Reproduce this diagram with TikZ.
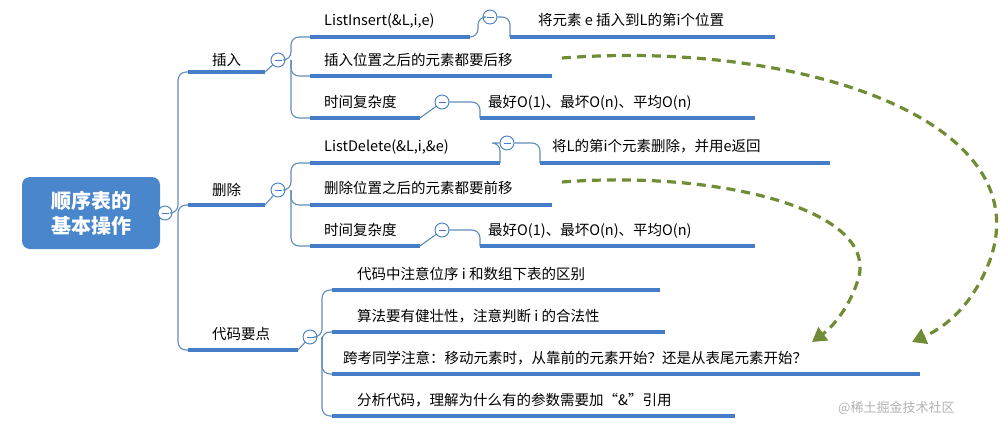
\documentclass[tikz,border=0pt]{standalone}
\usepackage{fontspec}
\setmainfont{Noto Sans CJK SC}
\usetikzlibrary{arrows.meta}
\definecolor{ulc}{RGB}{70,125,200}
\definecolor{lnc}{RGB}{95,140,185}
\definecolor{grn}{RGB}{112,140,52}
\definecolor{rootc}{RGB}{74,134,204}
\tikzset{
 txt/.style={font=\fontsize{14.5}{17}\selectfont, anchor=base west, inner sep=0pt},
 ul/.style={draw=ulc, line width=3.5pt},
 br/.style={draw=lnc, line width=1.1pt, rounded corners=8pt},
 minus/.style={circle, draw=ulc, line width=0.9pt, minimum size=14pt, inner sep=0pt, fill=white,
   path picture={\draw[ulc,line width=0.9pt] ([xshift=-3.5pt]path picture bounding box.center) -- ([xshift=3.5pt]path picture bounding box.center);}},
 garr/.style={draw=grn, line width=3.2pt, dash pattern=on 9pt off 6pt, -{Triangle[length=14pt,width=16pt]}}
}
\begin{document}
\begin{tikzpicture}[x=1pt,y=-1pt]
\useasboundingbox (0,0) rectangle (1006,423);
% root
\node[fill=rootc, rounded corners=8pt, minimum width=138pt, minimum height=72pt, text=white, font=\fontsize{20}{25}\selectfont\bfseries, align=center] (root) at (91,213) {顺序表的\\基本操作};
\node[minus] (m0) at (165,213) {};
% level 1 branches
\coordinate (hub) at (178,213);
\draw[br] (m0) -- (hub) |- (188,72);
\draw[br] (hub) |- (188,205);
\draw[br] (hub) |- (188,350);
% 插入
\draw[ul] (188,72) -- (265,72);
\node[txt] (cr) at (212,65) {插入};
\node[minus] (m1) at (278,60) {};
\draw[br] (265,72) -- (m1);
\coordinate (h1) at (291,60);
\draw[br] (m1) -- (h1) |- (310,37);
\draw[br] (h1) |- (310,76);
\draw[br] (h1) |- (310,118);
\draw[ul] (310,37) -- (470,37);
\node[txt] (li) at (324,25) {ListInsert(\&L,i,e)};
\node[minus] (m2) at (490,17) {};
\draw[br] (470,37) -- (478,37) |- (m2);
\draw[br] (m2) -- (510,17) |- (510,37);
\draw[ul] (510,37) -- (775,37);
\node[txt] (li2) at (538,25) {将元素 e 插入到L的第i个位置};
\draw[ul] (310,76) -- (552,76);
\node[txt] (hy) at (324,65) {插入位置之后的元素都要后移};
\draw[ul] (310,118) -- (420,118);
\node[txt] (t1) at (324,107) {时间复杂度};
\node[minus] (m3) at (442,102) {};
\draw[br] (420,118) -- (m3);
\draw[br] (m3) -- (480,102) |- (480,118);
\draw[ul] (480,118) -- (755,118);
\node[txt] (t1b) at (488,107) {最好O(1)、最坏O(n)、平均O(n)};
% 删除
\draw[ul] (188,205) -- (265,205);
\node[txt] (sc) at (212,195) {删除};
\node[minus] (m4) at (278,190) {};
\draw[br] (265,205) -- (m4);
\coordinate (h2) at (291,190);
\draw[br] (m4) -- (h2) |- (310,163);
\draw[br] (h2) |- (310,205);
\draw[br] (h2) |- (310,246);
\draw[ul] (310,163) -- (500,163);
\node[txt] (ld) at (324,151) {ListDelete(\&L,i,\&e)};
\node[minus] (m5) at (507,143) {};
\draw[br] (500,163) |- (m5);
\draw[br] (m5) -- (540,143) |- (540,163);
\draw[ul] (540,163) -- (830,163);
\node[txt] (ld2) at (552,151) {将L的第i个元素删除，并用e返回};
\draw[ul] (310,205) -- (552,205);
\node[txt] (qy) at (324,193) {删除位置之后的元素都要前移};
\draw[ul] (310,246) -- (420,246);
\node[txt] (t2) at (324,235) {时间复杂度};
\node[minus] (m6) at (442,230) {};
\draw[br] (420,246) -- (m6);
\draw[br] (m6) -- (480,230) |- (480,246);
\draw[ul] (480,246) -- (755,246);
\node[txt] (t2b) at (488,235) {最好O(1)、最坏O(n)、平均O(n)};
% 代码要点
\draw[ul] (188,350) -- (298,350);
\node[txt] (dm) at (212,339) {代码要点};
\node[minus] (m7) at (310,337) {};
\draw[br] (298,350) -- (m7);
\coordinate (h3) at (322,337);
\draw[br] (m7) -- (h3) |- (332,290);
\draw[br] (h3) |- (332,332);
\draw[br] (h3) |- (332,374);
\draw[br] (h3) |- (332,416);
\draw[ul] (332,290) -- (660,290);
\node[txt] (c1) at (357,279) {代码中注意位序 i 和数组下表的区别};
\draw[ul] (332,332) -- (665,332);
\node[txt] (c2) at (357,321) {算法要有健壮性，注意判断 i 的合法性};
\draw[ul] (332,374) -- (920,374);
\node[txt] (c3) at (343,363) {跨考同学注意：移动元素时，从靠前的元素开始？还是从表尾元素开始？};
\draw[ul] (332,416) -- (735,416);
\node[txt] (c4) at (357,405) {分析代码，理解为什么有的参数需要加“\&”引用};
% dashed arrows
\coordinate (a1s) at (562,58);
\coordinate (a1e) at (912,342);
\draw[garr] (a1s) .. controls (800,40) and (1040,120) .. (990,260) .. controls (975,300) and (950,325) .. (a1e);
\coordinate (a2s) at (562,182);
\coordinate (a2e) at (812,342);
\draw[garr] (a2s) .. controls (720,170) and (880,210) .. (858,280) .. controls (850,305) and (835,325) .. (a2e);
% watermark
\node[txt, text=black!30, font=\fontsize{13}{15}\selectfont] (wm) at (838,412) {@稀土掘金技术社区};
\end{tikzpicture}
\end{document}
